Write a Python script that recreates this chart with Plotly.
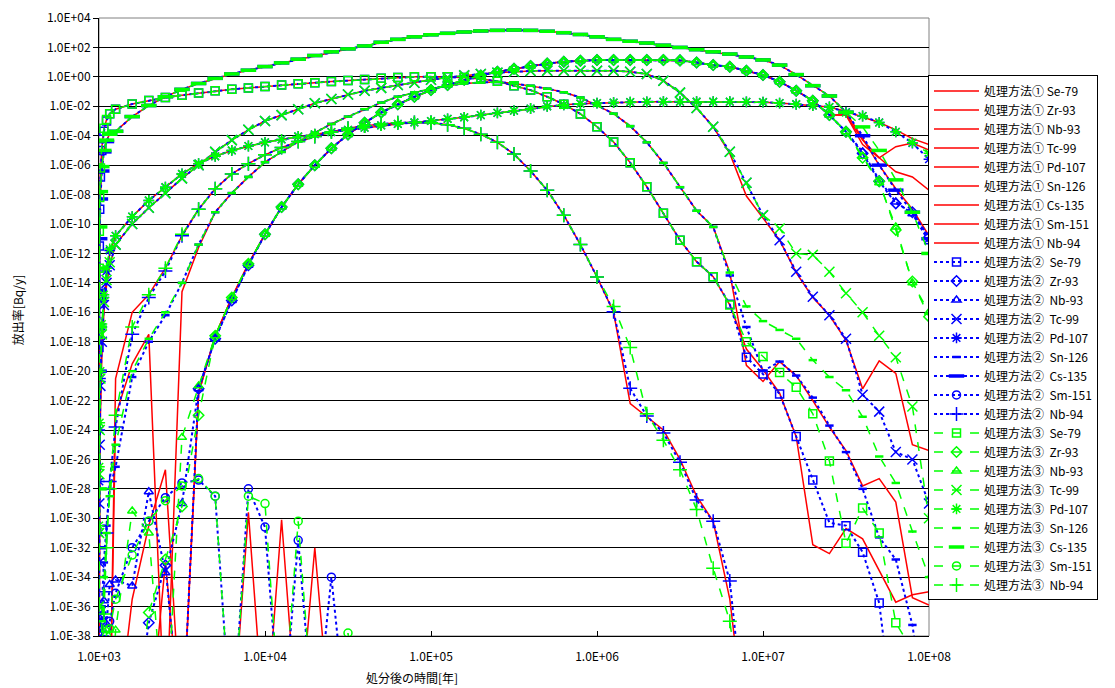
import plotly.graph_objects as go

# ---------------- time grid (years after disposal) ----------------
TIME_YEARS = [
    1000, 1002, 1005, 1010, 1020, 1040, 1070, 1110, 1160,
    1259, 1585, 1995, 2512, 3162, 3981, 5012, 6310, 7943, 10000,
    12589, 15849, 19953, 25119, 31623, 39811, 50119, 63096, 79433, 100000,
    125893, 158489, 199526, 251189, 316228, 398107, 501187, 630957, 794328, 1000000,
    1258925, 1584893, 1995262, 2511886, 3162278, 3981072, 5011872, 6309573, 7943282, 10000000,
    12589254, 15848932, 19952623, 25118864, 31622777, 39810717, 50118723, 63095734, 79432823, 100000000,
]

NUCLIDES = ["Se-79", "Zr-93", "Nb-93", "Tc-99", "Pd-107", "Sn-126", "Cs-135", "Sm-151", "Nb-94"]
METHODS = ["処理方法①", "処理方法②", "処理方法③"]

X_TICK_LABELS = ["1.0E+03", "1.0E+04", "1.0E+05", "1.0E+06", "1.0E+07", "1.0E+08"]
Y_TICK_LABELS = ["1.0E+04", "1.0E+02", "1.0E+00", "1.0E-02", "1.0E-04", "1.0E-06", "1.0E-08",
                 "1.0E-10", "1.0E-12", "1.0E-14", "1.0E-16", "1.0E-18", "1.0E-20", "1.0E-22",
                 "1.0E-24", "1.0E-26", "1.0E-28", "1.0E-30", "1.0E-32", "1.0E-34", "1.0E-36",
                 "1.0E-38"]

# ---------------- release rates, log10(Bq/y) ----------------
# segments: early (1000-1160 y), then 10 points per decade
NONE_EARLY = [-45, -45, -45, -45, -45, -45, -45, -45, -45]

# Se-79
SE79_E1 = [-19, -14, -11, -8.5, -6.5, -4.8, -3.6, -2.9, -2.5]
SE79_E2 = [-18.4, -15, -11.5, -9, -6.8, -5, -3.7, -3.0, -2.5]
SE79_E3 = [-17.5, -13, -10.5, -8.2, -6.2, -4.7, -3.5, -2.9, -2.5]
SE79_D3 = [-2.2, -1.85, -1.6, -1.4, -1.25, -1.1, -0.95, -0.85, -0.75, -0.65]
SE79_D4 = [-0.55, -0.47, -0.4, -0.32, -0.25, -0.18, -0.1, -0.05, 0.0, 0.0]
SE79_D5 = [0.0, -0.05, -0.15, -0.3, -0.6, -0.9, -1.35, -1.86, -2.52, -3.39]
SE79_D6_1 = [-4.43, -5.83, -7.47, -9.27, -11.1, -12.56, -13.58, -15.5, -18.5, -19.9]
SE79_D6_2 = [-4.43, -5.83, -7.47, -9.27, -11.1, -12.56, -13.58, -15.46, -19.06, -20.2]
SE79_D6_3 = [-4.43, -5.83, -7.47, -9.27, -11.1, -12.56, -13.58, -15.5, -18.0, -19.0]
SE79_D7_1 = [-21.5, -24.45, -31.8, -32.4, -30.7, -31.4, -33.5, -35.7, -35.2, -35.0]
SE79_D7_2 = [-21.55, -24.45, -27.4, -30.3, -30.5, -32.3, -35.75, -45, -45, -45]
SE79_D7_3 = [-20.1, -21.1, -22.9, -26.1, -31.7, -29.3, -31.0, -37.1, -39, -40]

# Zr-93 / Nb-93
ZR93_D3_1 = [-45, -45, -45, -33.0, -45, -21.5, -17.6, -15.0, -12.7, -10.7]
ZR93_D3_2 = [-45, -45, -37.1, -33.2, -45, -21.2, -17.8, -15.2, -12.8, -10.7]
ZR93_D3_3 = [-45, -45, -36.4, -32.8, -29.2, -23.0, -17.6, -15.0, -12.7, -10.7]
ZRNB_D4 = [-8.85, -7.3, -6.0, -4.85, -3.92, -3.12, -2.42, -1.86, -1.35, -0.89]
ZRNB_D5 = [-0.55, -0.2, 0.1, 0.35, 0.55, 0.74, 0.9, 1.03, 1.1, 1.15]
ZRNB_D6 = [1.15, 1.15, 1.15, 1.15, 1.12, 0.97, 0.8, 0.69, 0.42, 0.13]
ZR93_D7_1 = [-0.33, -0.94, -1.62, -2.59, -2.6, -4.3, -5.5, -4.75, -4.5, -4.97]
ZR93_D7_2 = [-0.33, -0.94, -1.62, -2.59, -3.73, -5.2, -7.1, -8.6, -9.2, -10.9]
ZR93_D7_3 = [-0.33, -0.94, -1.62, -2.59, -3.73, -5.5, -7.1, -10.4, -13.9, -16.3]
NB93_E2 = [-45, -45, -45, -45, -37.6, -36.7, -35.6, -37.2, -34.5]
NB93_E3 = [-45, -45, -45, -45, -45, -45, -45, -37.6, -45]
NB93_D3_1 = [-45, -45, -45, -45, -45, -21.5, -17.6, -15.0, -12.7, -10.7]
NB93_D3_2 = [-34.2, -34.6, -28.2, -33.7, -29.0, -21.2, -17.8, -15.2, -12.8, -10.7]
NB93_D3_3 = [-37.6, -29.5, -31.0, -45, -24.5, -21.0, -17.6, -15.0, -12.7, -10.7]
NB93_D7_1 = [-0.33, -0.94, -1.62, -2.59, -2.6, -4.6, -5.5, -6.45, -6.8, -7.7]
NB93_D7_2 = [-0.33, -0.94, -1.62, -2.59, -3.73, -5.1, -7.0, -8.5, -9.3, -11.2]
NB93_D7_3 = [-0.33, -0.94, -1.62, -2.59, -3.73, -5.4, -7.2, -10.2, -14.0, -16.0]

# Tc-99
TC99_E1 = [-45, -40, -33, -28, -23, -19, -16, -14.2, -12.8]
TC99_E2 = [-37, -33, -29, -25, -21, -18, -15.5, -14, -12.8]
TC99_E3 = [-36, -31, -27, -24, -20.5, -17.5, -15.3, -13.8, -12.6]
TC99_D3 = [-11.4, -10.0, -8.9, -7.9, -6.9, -6.0, -5.1, -4.3, -3.6, -3.0]
TC99_D4 = [-2.6, -2.2, -1.8, -1.5, -1.2, -0.95, -0.75, -0.55, -0.4, -0.2]
TC99_D5 = [-0.05, 0.1, 0.2, 0.28, 0.35, 0.4, 0.42, 0.42, 0.42, 0.42]
TC99_D6_1 = [0.42, 0.35, 0.19, -0.26, -1.07, -2.12, -3.39, -5.2, -8.1, -9.6]
TC99_D6_23 = [0.42, 0.35, 0.19, -0.26, -1.07, -2.12, -3.39, -5.09, -7.2, -9.4]
TC99_D7_1 = [-11.1, -13.3, -15.0, -16.2, -17.9, -21.2, -19.3, -20.15, -25.0, -25.4]
TC99_D7_2 = [-11.1, -13.24, -14.94, -16.2, -17.8, -21.6, -22.75, -25.5, -26.0, -29.0]
TC99_D7_3 = [-10.3, -12.0, -12.1, -13.24, -14.7, -16.0, -17.6, -19.06, -22.4, -30.0]

# Pd-107
PD107_E1 = [-45, -38, -31, -26, -21.5, -18, -15.5, -13.5, -12.0]
PD107_E2 = [-36.5, -31, -27.5, -24, -20.5, -17, -15, -13.2, -11.8]
PD107_E3 = [-36, -30.5, -26.5, -23.5, -20, -16.8, -14.8, -13, -11.7]
PD107_D3 = [-10.8, -9.5, -8.4, -7.5, -6.6, -5.9, -5.4, -5.0, -4.7, -4.45]
PD107_D4 = [-4.25, -4.05, -3.9, -3.75, -3.6, -3.45, -3.3, -3.2, -3.1, -3.0]
PD107_D5 = [-2.85, -2.75, -2.6, -2.45, -2.3, -2.15, -2.0, -1.9, -1.82, -1.78]
PD107_D6 = [-1.75, -1.72, -1.7, -1.69, -1.69, -1.69, -1.69, -1.69, -1.7, -1.72]
PD107_D7_1 = [-1.78, -1.86, -1.95, -2.05, -2.35, -2.7, -3.1, -3.6, -4.2, -4.6]
PD107_D7_2 = [-1.78, -1.86, -1.95, -2.05, -2.4, -2.66, -3.1, -3.73, -4.5, -5.6]
PD107_D7_3 = [-1.78, -1.86, -1.95, -2.05, -2.43, -2.66, -3.11, -3.73, -4.47, -5.2]

# Sn-126
SN126_E2 = [-45, -45, -45, -45, -38, -36, -33, -30.5, -28]
SN126_E3 = [-45, -45, -45, -45, -45, -37, -34, -31, -28.5]
SN126_D3_1 = [-23.0, -19.5, -17.5, -45, -14.6, -11.6, -9.2, -7.9, -6.8, -5.8]
SN126_D3_2 = [-26.5, -20.4, -18.0, -16.2, -14.0, -11.4, -9.2, -7.9, -6.8, -5.8]
SN126_D3_3 = [-25.0, -20.0, -17.8, -16.0, -14.0, -11.4, -9.2, -7.9, -6.8, -5.8]
SN126_D4 = [-5.1, -4.4, -3.8, -3.2, -2.7, -2.2, -1.75, -1.35, -1.05, -0.8]
SN126_D5 = [-0.6, -0.45, -0.38, -0.35, -0.45, -0.6, -0.8, -1.05, -1.4, -1.95]
SN126_D6_1 = [-2.5, -3.35, -4.45, -5.85, -7.5, -9.1, -10.2, -13.3, -19.6, -20.7]
SN126_D6_2 = [-2.5, -3.35, -4.45, -5.85, -7.5, -9.1, -10.2, -13.5, -17.0, -20.0]
SN126_D6_3 = [-2.5, -3.35, -4.45, -5.85, -7.5, -9.1, -10.2, -13.3, -15.6, -16.6]
SN126_D7_1 = [-19.35, -20.3, -22.0, -23.8, -25.4, -27.8, -27.3, -28.9, -35.4, -35.9]
SN126_D7_2 = [-19.35, -20.3, -21.8, -23.7, -25.5, -28.0, -31.3, -32.8, -37.25, -45]
SN126_D7_3 = [-17.2, -17.8, -19.25, -20.4, -21.3, -23.1, -25.8, -27.6, -30.9, -34.0]

# Cs-135
CS135_E1 = [-30, -18, -13.5, -10.5, -8, -6.2, -5, -4.3, -3.9]
CS135_E2 = [-32, -20, -14.5, -11, -8.3, -6.4, -5.1, -4.4, -3.9]
CS135_E3 = [-28, -17, -13, -10.2, -7.8, -6.1, -5, -4.3, -3.9]
CS135_D3 = [-3.7, -2.7, -1.95, -1.35, -0.85, -0.45, -0.1, 0.2, 0.45, 0.7]
CS135_D4 = [0.95, 1.2, 1.45, 1.7, 1.9, 2.1, 2.35, 2.55, 2.72, 2.86]
CS135_D5 = [2.96, 3.05, 3.12, 3.16, 3.18, 3.16, 3.1, 3.0, 2.88, 2.72]
CS135_D6 = [2.55, 2.42, 2.3, 2.15, 2.0, 1.85, 1.7, 1.55, 1.35, 1.15]
CS135_D7_1 = [0.8, 0.15, -0.6, -1.3, -2.4, -4.2, -6.0, -7.6, -9.0, -10.8]
CS135_D7_2 = [0.8, 0.15, -0.6, -1.3, -2.4, -4.0, -6.0, -7.7, -9.2, -11.0]
CS135_D7_3 = [0.8, 0.15, -0.6, -1.3, -2.4, -3.4, -5.0, -7.0, -9.2, -12.0]

# Sm-151
SM151_E2 = [-45, -45, -45, -45, -45, -40, -38.5, -37.5, -37]
SM151_E3 = [-45, -45, -45, -45, -45, -45, -39, -38, -37.5]
SM151_D3_1 = [-45, -35.5, -30.5, -26.7, -45, -45, -45, -45, -29.6, -45]
SM151_D3_2 = [-35.1, -32.0, -30.2, -28.6, -27.6, -27.4, -28.5, -45, -28.0, -30.6]
SM151_D3_3 = [-35.5, -32.5, -30.2, -28.8, -27.8, -27.3, -28.5, -45, -28.5, -29.0]
SM151_D4_1 = [-30.1, -45, -32.0, -45]
SM151_D4_2 = [-45, -31.5, -45, -34.0, -45]
SM151_D4_3 = [-45, -30.2, -45, -45, -37.8, -45]

# Nb-94
NB94_E2 = [-45, -45, -45, -45, -45, -38, -35, -31, -27.5]
NB94_E3 = [-45, -45, -45, -45, -45, -45, -36.5, -32, -28]
NB94_D3_1 = [-20.5, -16.0, -14.8, -13.0, -10.8, -9.0, -7.6, -6.6, -5.9, -5.3]
NB94_D3_2 = [-23.8, -17.5, -15.0, -13.2, -10.8, -9.0, -7.6, -6.6, -5.9, -5.3]
NB94_D3_3 = [-23.0, -17.0, -14.8, -13.0, -10.7, -9.0, -7.6, -6.6, -5.9, -5.3]
NB94_D4 = [-4.8, -4.4, -4.05, -3.75, -3.5, -3.32, -3.2, -3.12, -3.1, -3.12]
NB94_D5 = [-3.25, -3.5, -3.9, -4.45, -5.25, -6.4, -7.7, -9.4, -11.4, -13.6]
NB94_D6_1 = [-16.0, -22.2, -23.1, -24.0, -26.0, -28.5, -30.2, -35.5, -45, -45]
NB94_D6_2 = [-15.96, -21.17, -23.05, -24.2, -26.2, -28.76, -30.2, -34.26, -45, -45]
NB94_D6_3 = [-15.6, -18.4, -22.9, -24.7, -26.7, -29.4, -33.4, -37.0, -45, -45]


def build(*parts):
    logs = [v for p in parts for v in p]
    return [10.0 ** v for v in logs]


SERIES = {
    0: [  # 処理方法①
        build(SE79_E1, SE79_D3, SE79_D4, SE79_D5, SE79_D6_1, SE79_D7_1),
        build(NONE_EARLY, ZR93_D3_1, ZRNB_D4, ZRNB_D5, ZRNB_D6, ZR93_D7_1),
        build(NONE_EARLY, NB93_D3_1, ZRNB_D4, ZRNB_D5, ZRNB_D6, NB93_D7_1),
        build(TC99_E1, TC99_D3, TC99_D4, TC99_D5, TC99_D6_1, TC99_D7_1),
        build(PD107_E1, PD107_D3, PD107_D4, PD107_D5, PD107_D6, PD107_D7_1),
        build(NONE_EARLY, SN126_D3_1, SN126_D4, SN126_D5, SN126_D6_1, SN126_D7_1),
        build(CS135_E1, CS135_D3, CS135_D4, CS135_D5, CS135_D6, CS135_D7_1),
        build(NONE_EARLY, SM151_D3_1, SM151_D4_1),
        build(NONE_EARLY, NB94_D3_1, NB94_D4, NB94_D5, NB94_D6_1),
    ],
    1: [  # 処理方法②
        build(SE79_E2, SE79_D3, SE79_D4, SE79_D5, SE79_D6_2, SE79_D7_2),
        build(NONE_EARLY, ZR93_D3_2, ZRNB_D4, ZRNB_D5, ZRNB_D6, ZR93_D7_2),
        build(NB93_E2, NB93_D3_2, ZRNB_D4, ZRNB_D5, ZRNB_D6, NB93_D7_2),
        build(TC99_E2, TC99_D3, TC99_D4, TC99_D5, TC99_D6_23, TC99_D7_2),
        build(PD107_E2, PD107_D3, PD107_D4, PD107_D5, PD107_D6, PD107_D7_2),
        build(SN126_E2, SN126_D3_2, SN126_D4, SN126_D5, SN126_D6_2, SN126_D7_2),
        build(CS135_E2, CS135_D3, CS135_D4, CS135_D5, CS135_D6, CS135_D7_2),
        build(SM151_E2, SM151_D3_2, SM151_D4_2),
        build(NB94_E2, NB94_D3_2, NB94_D4, NB94_D5, NB94_D6_2),
    ],
    2: [  # 処理方法③
        build(SE79_E3, SE79_D3, SE79_D4, SE79_D5, SE79_D6_3, SE79_D7_3),
        build(NONE_EARLY, ZR93_D3_3, ZRNB_D4, ZRNB_D5, ZRNB_D6, ZR93_D7_3),
        build(NB93_E3, NB93_D3_3, ZRNB_D4, ZRNB_D5, ZRNB_D6, NB93_D7_3),
        build(TC99_E3, TC99_D3, TC99_D4, TC99_D5, TC99_D6_23, TC99_D7_3),
        build(PD107_E3, PD107_D3, PD107_D4, PD107_D5, PD107_D6, PD107_D7_3),
        build(SN126_E3, SN126_D3_3, SN126_D4, SN126_D5, SN126_D6_3, SN126_D7_3),
        build(CS135_E3, CS135_D3, CS135_D4, CS135_D5, CS135_D6, CS135_D7_3),
        build(SM151_E3, SM151_D3_3, SM151_D4_3),
        build(NB94_E3, NB94_D3_3, NB94_D4, NB94_D5, NB94_D6_3),
    ],
}

# ---------------- styles ----------------
METHOD_COLORS = ["#FF0000", "#0000FF", "#00FF00"]
METHOD_DASH = ["solid", "dot", "dash"]
METHOD_WIDTH = [1.5, 2.0, 1.5]
METHOD_SEP = ["\u00a0", "\u00a0\u00a0", "\u00a0\u00a0"]
SYMBOLS = ["square-open", "diamond-open", "triangle-up-open", "x-thin-open",
           "asterisk-open", "line-ew-open", "line-ew-open", "circle-open", "cross-thin-open"]
SYM_SIZE = [8, 8, 8, 10, 9, 6, 11, 8, 10]
SYM_LINE = [1.5, 1.5, 1.5, 1.5, 1.5, 2.5, 3.5, 1.5, 1.5]

FONT = "Noto Sans CJK JP, Noto Sans, sans-serif"

fig = go.Figure()
for m in range(3):
    for k, nuc in enumerate(NUCLIDES):
        yvals = SERIES[m][k]
        xvals = TIME_YEARS[:len(yvals)]
        mode = "lines" if m == 0 else "lines+markers"
        fig.add_trace(go.Scatter(
            x=xvals, y=yvals, mode=mode,
            name=METHODS[m] + METHOD_SEP[m] + nuc,
            line=dict(color=METHOD_COLORS[m], dash=METHOD_DASH[m], width=METHOD_WIDTH[m]),
            marker=dict(symbol=SYMBOLS[k], size=SYM_SIZE[k], color=METHOD_COLORS[m],
                        line=dict(color=METHOD_COLORS[m], width=SYM_LINE[k])),
            hoverinfo="skip",
        ))

X_TICK_VALS = [float(s) for s in X_TICK_LABELS]
Y_TICK_VALS = [float(s) for s in Y_TICK_LABELS]

# the page body adds an 8px offset; the figure is sized so the plot area lands at
# x 99..929, y 18..636 of the window
fig.update_layout(
    width=1107, height=680, autosize=False,
    margin=dict(l=91, r=186, t=10, b=52, pad=0),
    paper_bgcolor="white", plot_bgcolor="white",
    font=dict(family=FONT, size=12, color="black"),
    showlegend=True,
    legend=dict(
        x=0.9988, xanchor="left", y=0.907, yanchor="top",
        bordercolor="black", borderwidth=1, bgcolor="white",
        font=dict(family=FONT, size=12, color="black"),
        itemwidth=45, tracegroupgap=0,
    ),
    xaxis=dict(
        type="log", range=[3, 8], automargin=False,
        tickvals=X_TICK_VALS, ticktext=X_TICK_LABELS,
        ticks="inside", ticklen=5, tickcolor="black", tickwidth=1,
        ticklabelstandoff=10,
        showgrid=False, zeroline=False,
        showline=True, linecolor="black", linewidth=1,
        tickfont=dict(family=FONT, size=12, color="black"),
    ),
    yaxis=dict(
        type="log", range=[-38, 4], automargin=False,
        tickvals=Y_TICK_VALS, ticktext=Y_TICK_LABELS,
        ticks="outside", ticklen=5, tickcolor="black", tickwidth=1,
        showgrid=True, gridcolor="#000000", gridwidth=1,
        zeroline=False, showline=True, linecolor="black", linewidth=1,
        tickfont=dict(family=FONT, size=12, color="black"),
    ),
    shapes=[dict(type="rect", xref="paper", yref="paper", x0=0, x1=1, y0=0, y1=1,
                 line=dict(color="#808080", width=1), layer="below")],
    annotations=[
        dict(text="放出率[Bq/y]", xref="paper", yref="paper", x=-0.099, y=0.527,
             textangle=-90, showarrow=False, xanchor="center", yanchor="middle",
             font=dict(family=FONT, size=12, color="black")),
        dict(text="処分後の時間[年]", xref="paper", yref="paper", x=0.377, y=-0.067,
             showarrow=False, xanchor="center", yanchor="middle",
             font=dict(family=FONT, size=12, color="black")),
    ],
)

fig.write_html("out.html")
